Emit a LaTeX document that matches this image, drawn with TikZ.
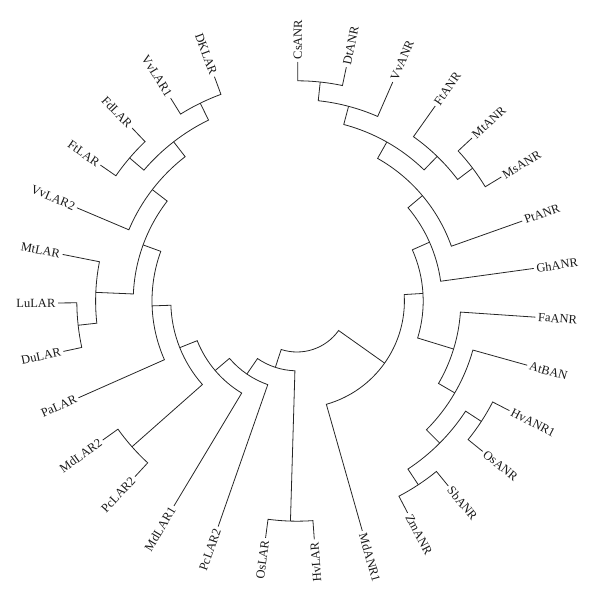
\documentclass[tikz,border=0pt]{standalone}
\usepackage{fontspec}
\setmainfont{Liberation Serif}
\newcommand\Ang[1]{89.8-11.71*(#1)}
\newcommand\Rad[1]{239-18.8*(#1)}
% #1 height of clade, #2 angle index of child 1, #3 name of child 1, #4 angle index of child 2, #5 name of child 2
\newcommand\clade[5]{\draw[br] (#3) -- ({\Ang{#2}}:{\Rad{#1}}) arc[start angle={\Ang{#2}}, end angle={\Ang{#4}}, radius={\Rad{#1}}] -- (#5);}
\newcommand\inode[3]{\coordinate (#1) at ({\Ang{#2}}:{\Rad{#3}});}
\newcommand\leafR[3]{\coordinate (#1) at ({\Ang{#2}}:239); \node[lblR, rotate={\Ang{#2}}] (t#1) at (#1) {#3};}
\newcommand\leafL[3]{\coordinate (#1) at ({\Ang{#2}}:239); \node[lblL, rotate={\Ang{#2}+180}] (t#1) at (#1) {#3};}
\begin{document}
\begin{tikzpicture}[x=1pt,y=1pt,
  br/.style={line width=0.8pt, draw=black!85, line join=miter},
  lbl/.style={inner sep=2.5pt, font=\fontsize{12.5}{14}\selectfont, text=black!90},
  lblR/.style={lbl, anchor=west},
  lblL/.style={lbl, anchor=east}]
\useasboundingbox (0,0) rectangle (600,605);
\begin{scope}[shift={(297,304)}]
% leaves
\leafR{CsANR}{0}{CsANR}
\leafR{DtANR}{1}{DtANR}
\leafR{VvANR}{2}{VvANR}
\leafR{FtANR}{3}{FtANR}
\leafR{MtANR}{4}{MtANR}
\leafR{MsANR}{5}{MsANR}
\leafR{PtANR}{6}{PtANR}
\leafR{GhANR}{7}{GhANR}
\leafR{FaANR}{8}{FaANR}
\leafR{AtBAN}{9}{AtBAN}
\leafR{HvANRi}{10}{HvANR1}
\leafR{OsANR}{11}{OsANR}
\leafR{SbANR}{12}{SbANR}
\leafR{ZmANR}{13}{ZmANR}
\leafR{MdANRi}{14}{MdANR1}
\leafL{HvLAR}{15}{HvLAR}
\leafL{OsLAR}{16}{OsLAR}
\leafL{PcLARb}{17}{PcLAR2}
\leafL{MdLARi}{18}{MdLAR1}
\leafL{PcLARa}{19}{PcLAR2}
\leafL{MdLARii}{20}{MdLAR2}
\leafL{PaLAR}{21}{PaLAR}
\leafL{DuLAR}{22}{DuLAR}
\leafL{LuLAR}{23}{LuLAR}
\leafL{MtLAR}{24}{MtLAR}
\leafL{VvLARii}{25}{VvLAR2}
\leafL{FtLAR}{26}{FtLAR}
\leafL{FdLAR}{27}{FdLAR}
\leafL{VvLARi}{28}{VvLAR1}
\leafL{DKLAR}{29}{DKLAR}
% internal nodes
\inode{V}{0.5}{1}
\inode{T}{1.25}{2}
\inode{W}{4.5}{1}
\inode{U}{3.75}{2}
\inode{S}{2.5}{3}
\inode{R}{4.25}{4}
\inode{L}{5.625}{5}
\inode{P}{10.5}{1}
\inode{Q}{12.5}{1}
\inode{O}{11.5}{2}
\inode{N}{10.25}{3}
\inode{M}{9.125}{4}
\inode{K}{7.375}{6}
\inode{J}{10.6875}{7}
\inode{X}{15.5}{1}
\inode{Y}{19.5}{1}
\inode{Z}{22.5}{1}
\inode{D}{23.25}{2}
\inode{AA}{26.5}{1}
\inode{BB}{28.5}{1}
\inode{A}{27.5}{2}
\inode{B}{26.25}{3}
\inode{Cc}{24.75}{4}
\inode{E}{22.875}{5}
\inode{F}{21.1875}{6}
\inode{G}{19.59375}{7}
\inode{H}{18.296875}{8}
\inode{I}{16.8984375}{9}
% clades
\clade{1}{0}{CsANR}{1}{DtANR}
\clade{2}{0.5}{V}{2}{VvANR}
\clade{1}{4}{MtANR}{5}{MsANR}
\clade{2}{3}{FtANR}{4.5}{W}
\clade{3}{1.25}{T}{3.75}{U}
\clade{4}{2.5}{S}{6}{PtANR}
\clade{5}{4.25}{R}{7}{GhANR}
\clade{1}{10}{HvANRi}{11}{OsANR}
\clade{1}{12}{SbANR}{13}{ZmANR}
\clade{2}{10.5}{P}{12.5}{Q}
\clade{3}{9}{AtBAN}{11.5}{O}
\clade{4}{8}{FaANR}{10.25}{N}
\clade{6}{5.625}{L}{9.125}{M}
\clade{7}{7.375}{K}{14}{MdANRi}
\clade{1}{15}{HvLAR}{16}{OsLAR}
\clade{1}{19}{PcLARa}{20}{MdLARii}
\clade{1}{22}{DuLAR}{23}{LuLAR}
\clade{2}{22.5}{Z}{24}{MtLAR}
\clade{1}{26}{FtLAR}{27}{FdLAR}
\clade{1}{28}{VvLARi}{29}{DKLAR}
\clade{2}{26.5}{AA}{28.5}{BB}
\clade{3}{25}{VvLARii}{27.5}{A}
\clade{4}{23.25}{D}{26.25}{B}
\clade{5}{21}{PaLAR}{24.75}{Cc}
\clade{6}{19.5}{Y}{22.875}{E}
\clade{7}{18}{MdLARi}{21.1875}{F}
\clade{8}{17}{PcLARb}{19.59375}{G}
\clade{9}{15.5}{X}{18.296875}{H}
\clade{10}{10.6875}{J}{16.8984375}{I}
\end{scope}
\end{tikzpicture}
\end{document}
